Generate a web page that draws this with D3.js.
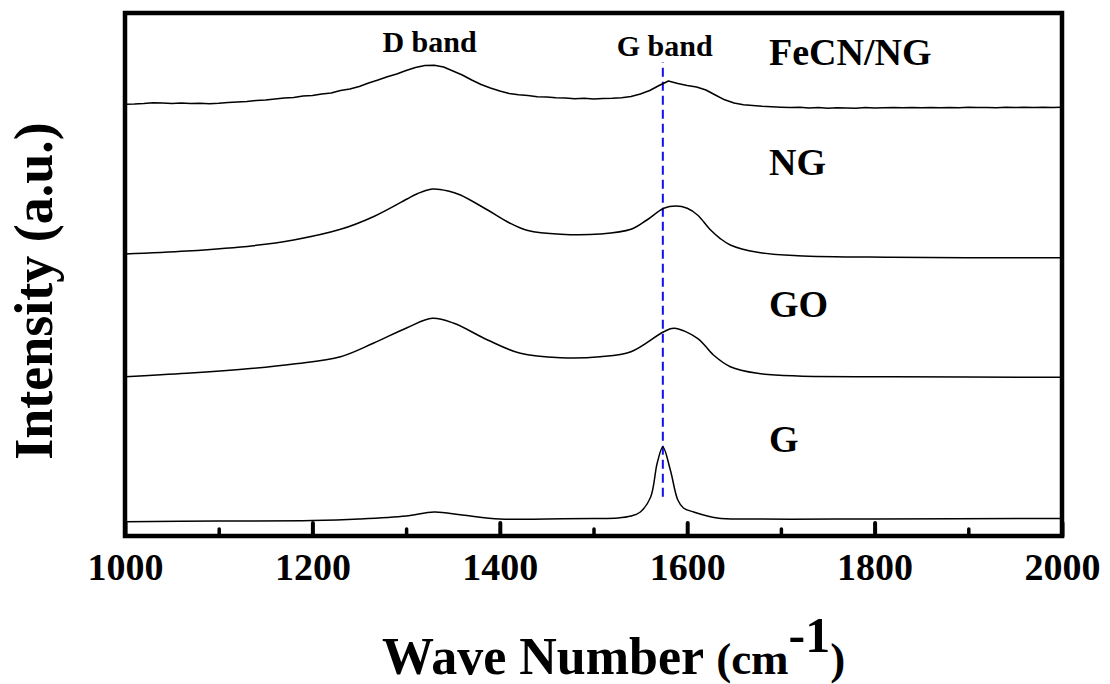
<!DOCTYPE html>
<html>
<head>
<meta charset="utf-8">
<script src="https://cdn.jsdelivr.net/npm/d3@7/dist/d3.min.js"></script>
<style>
  body { margin: 0; background: #fff; }
  svg text { font-family: "Liberation Serif", "Times New Roman", serif; font-weight: bold; fill: #000; }
</style>
</head>
<body>
<svg id="raman"></svg>
<script>
// ---- data (intensity in a.u., spectra already stacked) ----
const majorTicks = [1000, 1200, 1400, 1600, 1800, 2000];
const minorTicks = [1100, 1300, 1500, 1700, 1900];
const seriesNames = ['FeCN/NG', 'NG', 'GO', 'G'];
const bandNames = ['D band', 'G band'];
const gBandPos = 1574;           // dashed guide at the G band
const gBandSpan = [7.5, 90.6];   // a.u. range of the guide

// FeCN/NG, sampled every 10 cm-1 from 1000 to 2000
const fecnWave = d3.range(1000, 2001, 10);
const fecnNg = [
  82.54, 82.60, 82.70, 82.85, 82.79, 82.70, 82.79, 82.70, 82.75, 82.64,
  82.73, 82.89, 82.98, 83.08, 83.27, 83.37, 83.56, 83.75, 83.84, 84.13,
  84.23, 84.51, 84.70, 85.18, 85.47, 85.95, 86.62, 87.19, 87.82, 88.34,
  89.01, 89.58, 89.96, 90.02, 89.67, 88.91, 88.15, 87.19, 86.33, 85.66,
  85.09, 84.61, 84.36, 84.23, 83.98, 83.94, 83.79, 83.75, 83.61, 83.69,
  83.56, 83.63, 83.69, 83.80, 84.03, 84.51, 85.18, 86.14, 87.00, 86.52,
  86.14, 85.85, 85.28, 84.32, 83.40, 82.79, 82.45, 82.31, 82.16, 82.06,
  81.99, 81.93, 81.97, 81.84, 81.91, 81.80, 81.89, 81.85, 81.80, 81.93,
  81.85, 81.88, 81.93, 81.86, 81.92, 81.87, 81.95, 81.90, 81.94, 81.88,
  81.96, 81.91, 81.95, 81.89, 81.97, 81.93, 81.96, 81.92, 81.98, 81.94,
  81.97
];

const ngData = [
  [1000, 53.92], [1066, 54.49], [1137, 55.51], [1180, 56.60], [1230, 58.64],
  [1265, 61.05], [1301, 64.44], [1312, 65.45], [1328, 66.35], [1345, 65.97],
  [1358, 65.20], [1387, 62.33], [1410, 59.90], [1430, 58.40], [1465, 57.69],
  [1507, 57.74], [1540, 58.64], [1557, 60.42], [1575, 62.66], [1588, 63.10],
  [1600, 62.66], [1611, 61.38], [1625, 58.51], [1635, 56.92], [1646, 55.64],
  [1675, 54.24], [1718, 53.59], [1817, 53.29], [2000, 53.21]
];

const goData = [
  [1000, 30.46], [1066, 31.11], [1137, 32.07], [1180, 32.89], [1230, 34.28],
  [1265, 36.85], [1301, 39.83], [1328, 41.63], [1351, 40.67], [1387, 37.48],
  [1422, 34.93], [1465, 34.09], [1507, 34.28], [1540, 35.24], [1575, 39.06],
  [1586, 39.71], [1611, 37.80], [1628, 34.61], [1646, 32.37], [1675, 31.11],
  [1718, 30.59], [1817, 30.46], [2000, 30.34]
];

const gData = [
  [1000, 2.73], [1100, 2.87], [1200, 2.96], [1250, 3.25], [1300, 3.82],
  [1330, 4.59], [1360, 4.02], [1400, 3.25], [1450, 3.25], [1500, 3.35],
  [1526, 3.44], [1540, 3.82], [1550, 4.59], [1561, 7.46], [1568, 13.96],
  [1574, 17.02], [1582, 12.62], [1590, 6.88], [1596, 5.35], [1607, 4.59],
  [1632, 3.44], [1668, 3.25], [1800, 3.25], [2000, 3.35]
];

class DrawRaman {

  constructor(container) {
    this.margin = { top: 13, right: 48, bottom: 148, left: 125 };
    this.width = 1110 - this.margin.left - this.margin.right;
    this.height = 684 - this.margin.top - this.margin.bottom;

    this.x = d3.scaleLinear().domain([1000, 2000]).range([0, this.width]);
    this.y = d3.scaleLinear().domain([0, 100]).range([this.height, 0]);

    this.svg = d3.select(container).attr('width', 1110).attr('height', 684);
    this.chart = this.svg.append('g')
      .attr('transform', 'translate(' + this.margin.left + ',' + this.margin.top + ')');

    const spectra = [
      fecnWave.map((w, i) => [w, fecnNg[i]]),
      ngData,
      goData,
      gData
    ];
    this.drawGuide();
    spectra.forEach((s, i) => this.drawPath(s, i === 0 ? d3.curveLinear : d3.curveCatmullRom.alpha(0.5)));
    this.drawAxis();
    this.drawLabels();
  }

  drawGuide() {
    this.chart.append('line')
      .attr('x1', this.x(gBandPos)).attr('x2', this.x(gBandPos))
      .attr('y1', this.y(gBandSpan[0])).attr('y2', this.y(gBandSpan[1]))
      .attr('stroke', '#1010f0')
      .attr('stroke-width', 2)
      .attr('stroke-dasharray', '9,5');
  }

  drawPath(data, curve) {
    const line = d3.line()
      .x(d => this.x(d[0]))
      .y(d => this.y(d[1]))
      .curve(curve);
    this.chart.append('path')
      .datum(data)
      .attr('d', line)
      .attr('fill', 'none')
      .attr('stroke', '#000')
      .attr('stroke-linejoin', 'round')
      .attr('stroke-width', 1.5);
  }

  drawAxis() {
    // ticks point inward, labels sit under the frame
    const major = this.chart.append('g')
      .attr('transform', 'translate(0,' + this.height + ')')
      .call(d3.axisBottom(this.x).tickValues(majorTicks).tickSize(-13).tickFormat(d3.format('d')));
    major.select('.domain').remove();
    major.selectAll('line').attr('stroke-width', 4).attr('stroke-linecap', 'round');
    major.selectAll('text')
      .attr('y', 44).attr('dy', 0)
      .attr('font-size', 38)
      .attr('font-family', '"Liberation Serif", serif')
      .attr('font-weight', 'bold');

    const minor = this.chart.append('g')
      .attr('transform', 'translate(0,' + this.height + ')')
      .call(d3.axisBottom(this.x).tickValues(minorTicks).tickSize(-7).tickFormat(''));
    minor.select('.domain').remove();
    minor.selectAll('line').attr('stroke-width', 3.5).attr('stroke-linecap', 'round');

    this.chart.append('rect')
      .attr('width', this.width)
      .attr('height', this.height)
      .attr('fill', 'none')
      .attr('stroke', '#000')
      .attr('stroke-width', 4.5);
  }

  drawLabels() {
    const c = this.chart;
    // band annotations
    c.append('text').attr('x', this.x(1325)).attr('y', 52 - this.margin.top)
      .attr('text-anchor', 'middle').attr('font-size', 30).text(bandNames[0]);
    c.append('text').attr('x', this.x(1576)).attr('y', 56 - this.margin.top)
      .attr('text-anchor', 'middle').attr('font-size', 30).text(bandNames[1]);

    // spectrum names
    const nameY = [65, 175, 317, 452];
    seriesNames.forEach((n, i) => {
      c.append('text')
        .attr('x', 769 - this.margin.left)
        .attr('y', nameY[i] - this.margin.top)
        .attr('font-size', 38)
        .text(n);
    });

    // axis titles
    this.svg.append('text')
      .attr('transform', 'translate(52,291) rotate(-90)')
      .attr('text-anchor', 'middle')
      .attr('font-size', 54)
      .text('Intensity (a.u.)');

    const xt = this.svg.append('text')
      .attr('x', 382).attr('y', 674)
      .attr('font-size', 52);
    xt.append('tspan').text('Wave Number ');
    xt.append('tspan').attr('font-size', 45).text('(cm');
    xt.append('tspan').attr('font-size', 50).attr('dy', -22).text('-1');
    xt.append('tspan').attr('font-size', 45).attr('dy', 22).text(')');
  }
}

new DrawRaman('#raman');
</script>
</body>
</html>
